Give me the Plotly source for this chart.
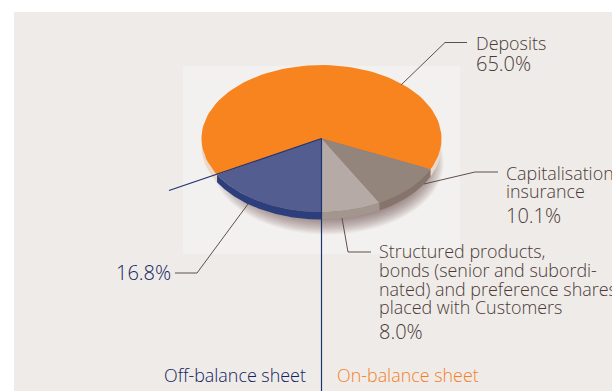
import numpy as np
import plotly.graph_objects as go

# Data
categories = ["Deposits", "Capitalisation insurance", "Structured products", "Off-balance sheet"]
values = [65.0, 10.1, 8.0, 16.8]
top_colors = ["#f7841f", "#94857c", "#b5aaa5", "#535d8f"]
wall_colors = ["#ead8c8", "#85736c", "#a3968f", "#2c3e7c"]

W, H = 612, 391
CX, CY, RX, RY = 321.5, 138.5, 120.0, 73.5
DEPTH = 7.5 / RY
# Axes are scaled so that the pie is a unit circle: the tilt comes from the scales.
x_range = [-CX / RX, (W - CX) / RX]
y_range = [-(H - CY) / RY, CY / RY]

fig = go.Figure()


def poly(xs, ys, color):
    fig.add_trace(go.Scatter(x=xs, y=ys, mode="lines", fill="toself", fillcolor=color,
                             line=dict(width=0), hoverinfo="skip", showlegend=False))


# soft shadow below the pie
t = np.linspace(0, 2 * np.pi, 120)
for i in range(30):
    k = i / 29
    rx = 0.97 - 0.19 * k
    ry = 0.98 - 0.30 * k
    poly(0.05 + rx * np.cos(t), -0.33 + ry * np.sin(t), "rgba(60,40,38,0.028)")

# slices clockwise from straight down
total = sum(values)
order = [3, 0, 1, 2]  # off-balance, deposits, capitalisation, structured
angle = 0.0
spans = {}
for i in order:
    a0 = angle
    angle += values[i] / total * 2 * np.pi
    spans[i] = (a0, angle)


def arc(a0, a1, n=90):
    a = np.linspace(a0, a1, n)
    return -np.sin(a), -np.cos(a), a


# side walls (only the front half of the rim is visible)
for i in order:
    a0, a1 = spans[i]
    xs, ys, a = arc(a0, a1, 200)
    idx = np.where(np.cos(a) >= -0.02)[0]
    if len(idx) == 0:
        continue
    for r in np.split(idx, np.where(np.diff(idx) > 1)[0] + 1):
        px = np.concatenate([xs[r], xs[r][::-1]])
        py = np.concatenate([ys[r], ys[r][::-1] - DEPTH])
        poly(px, py, wall_colors[i])

# tops
for i in order:
    a0, a1 = spans[i]
    xs, ys, _ = arc(a0, a1)
    poly(np.concatenate([[0], xs, [0]]), np.concatenate([[0], ys, [0]]), top_colors[i])


def pxx(x):
    return x / W


def pxy(y):
    return 1 - y / H


GREY = "#4a3a35"
NAVY = "#0f235c"
ORANGE = "#f5801f"
FONT = "Open Sans"
LABEL_SIZE = 17.9
PCT_SIZE = 20

shapes = [
    dict(type="rect", xref="paper", yref="paper", x0=pxx(14), x1=pxx(W), y0=pxy(H), y1=pxy(12),
         fillcolor="#efebe9", line=dict(width=0), layer="below"),
    dict(type="rect", xref="paper", yref="paper", x0=pxx(183), x1=pxx(460), y0=pxy(254), y1=pxy(66),
         fillcolor="#f3f1ef", line=dict(width=0), layer="below"),
]


def polyline(pts, color, width=1):
    for (x0, y0), (x1, y1) in zip(pts[:-1], pts[1:]):
        shapes.append(dict(type="line", xref="paper", yref="paper", x0=pxx(x0), y0=pxy(y0),
                           x1=pxx(x1), y1=pxy(y1), line=dict(color=color, width=width)))


polyline([(401, 85), (445, 42.5), (467, 42.5)], "#5f4f4a")
polyline([(424, 184), (475, 172), (498, 172)], "#5f4f4a")
polyline([(342, 218), (348, 252), (371, 252)], "#5f4f4a")
polyline([(248, 204), (197, 273), (175, 273)], "#5f4f4a")
polyline([(321.5, 138.5), (321.5, 391)], "#1f3370", 1.2)
polyline([(321.5, 138.5), (169, 190.5)], "#1f3370", 1.2)

texts = [
    ("Deposits", 474, 43.5, "left", GREY, LABEL_SIZE),
    ("65.0%", 474, 63.5, "left", GREY, PCT_SIZE),
    ("Capitalisation", 504, 172.5, "left", GREY, LABEL_SIZE),
    ("insurance", 504, 191, "left", GREY, LABEL_SIZE),
    ("10.1%", 504, 215, "left", GREY, PCT_SIZE),
    ("Structured products,", 377, 251, "left", GREY, LABEL_SIZE),
    ("bonds (senior and subordi-", 377, 269.5, "left", GREY, LABEL_SIZE),
    ("nated) and preference shares", 377, 288.5, "left", GREY, LABEL_SIZE),
    ("placed with Customers", 377, 307, "left", GREY, LABEL_SIZE),
    ("8.0%", 377, 331, "left", GREY, PCT_SIZE),
    ("16.8%", 173, 272.5, "right", NAVY, PCT_SIZE),
    ("Off-balance sheet", 308, 375, "right", NAVY, LABEL_SIZE),
    ("On-balance sheet", 335, 375, "left", ORANGE, LABEL_SIZE),
]
annotations = [dict(text=s, x=pxx(x), y=pxy(y), xref="paper", yref="paper", xanchor=a, yanchor="middle",
                    showarrow=False, font=dict(family=FONT, size=z, color=c, weight=300))
               for s, x, y, a, c, z in texts]

fig.update_layout(
    width=W, height=H, margin=dict(l=0, r=0, t=0, b=0, pad=0),
    paper_bgcolor="white", plot_bgcolor="rgba(0,0,0,0)", showlegend=False,
    xaxis=dict(range=x_range, visible=False, fixedrange=True),
    yaxis=dict(range=y_range, visible=False, fixedrange=True),
    shapes=shapes, annotations=annotations,
)
fig.write_html("out.html", config={"displayModeBar": False},
               post_script="document.body.style.margin='0';document.documentElement.style.overflow='hidden';")
